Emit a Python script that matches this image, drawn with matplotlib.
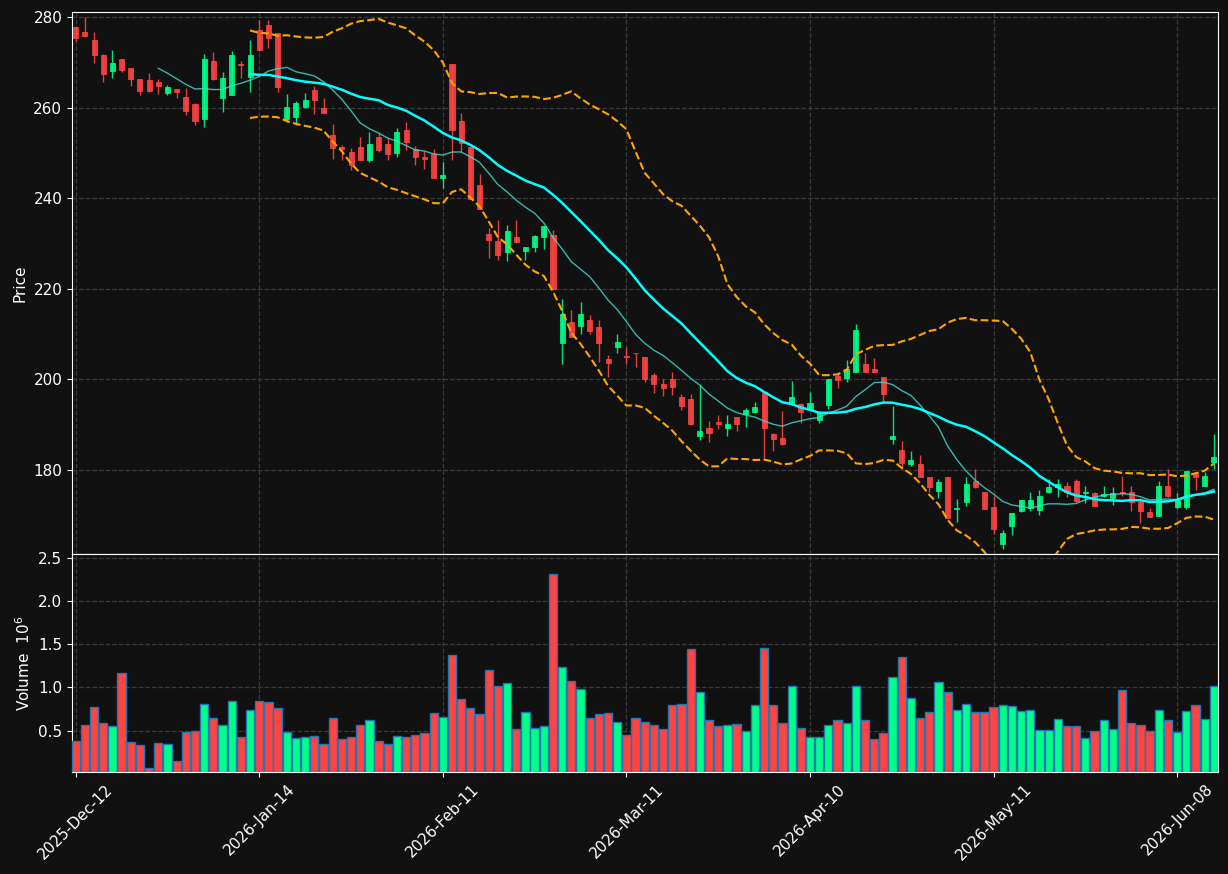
import numpy as np
import pandas as pd
import matplotlib
matplotlib.use('Agg')
import matplotlib.pyplot as plt

# OHLC, one value per trading day
opens = [277.7, 276.7, 274.9, 271.6, 268.0, 270.7, 268.7, 266.3, 266.1, 265.6,
         263.3, 264.1, 262.3, 260.8, 257.4, 270.3, 262.2, 262.8, 269.6, 266.8,
         277.1, 278.2, 276.4, 257.5, 258.0, 260.1, 263.9, 259.9, 253.9, 251.2,
         250.1, 251.3, 248.4, 253.5, 251.9, 250.0, 255.1, 250.8, 249.0, 249.8,
         244.5, 269.6, 257.0, 251.3, 242.9, 232.0, 230.5, 228.2, 231.4, 228.4,
         229.3, 231.4, 231.9, 208.1, 212.6, 211.8, 213.1, 211.5, 204.5, 207.1,
         205.2, 205.9, 204.9, 201.0, 199.0, 200.0, 196.1, 195.7, 187.5, 189.2,
         190.6, 189.3, 191.6, 192.3, 192.7, 197.1, 187.9, 187.0, 194.6, 194.6,
         193.4, 191.0, 194.4, 200.8, 200.3, 201.7, 203.4, 202.3, 200.5, 186.9,
         184.4, 181.2, 181.3, 178.4, 175.4, 178.3, 171.3, 172.9, 177.5, 175.1,
         171.8, 163.7, 167.6, 171.0, 171.6, 171.2, 175.1, 176.2, 176.5, 177.5,
         174.9, 174.9, 174.1, 173.7, 175.2, 175.0, 172.9, 170.6, 169.9, 176.4,
         171.8, 171.8, 179.3, 176.5, 181.8]
highs = [278.1, 280.0, 276.7, 271.9, 272.7, 270.7, 268.7, 266.3, 267.6, 266.2,
         265.0, 264.1, 264.3, 261.0, 271.9, 272.2, 267.9, 272.4, 270.2, 274.9,
         279.4, 279.4, 276.4, 262.9, 261.4, 263.3, 264.7, 262.1, 256.4, 251.8,
         251.0, 253.5, 254.5, 254.3, 253.3, 255.4, 256.8, 251.5, 250.4, 250.8,
         248.0, 269.6, 258.7, 251.3, 245.3, 233.3, 235.1, 234.0, 235.1, 229.3,
         231.8, 233.9, 233.0, 217.7, 215.2, 217.1, 214.2, 213.1, 205.3, 210.0,
         207.2, 205.9, 204.9, 201.3, 200.0, 201.6, 196.7, 196.7, 198.8, 190.7,
         192.0, 192.0, 191.6, 193.7, 195.0, 197.5, 188.1, 192.9, 199.6, 194.8,
         197.1, 192.9, 200.0, 201.3, 204.2, 212.3, 205.9, 204.6, 200.5, 194.0,
         186.4, 184.2, 183.3, 178.4, 177.9, 178.5, 173.5, 178.5, 180.2, 175.1,
         174.1, 166.6, 170.5, 173.3, 175.0, 175.5, 178.0, 177.9, 177.2, 177.9,
         176.5, 175.2, 176.5, 176.2, 178.7, 176.5, 173.7, 171.6, 177.5, 180.1,
         174.9, 179.8, 179.6, 179.5, 187.8]
lows = [274.8, 275.5, 269.8, 265.6, 266.6, 267.9, 264.7, 262.7, 263.5, 262.9,
        262.7, 262.2, 258.3, 256.2, 255.6, 266.0, 259.1, 262.7, 266.6, 263.5,
        272.5, 273.1, 263.5, 256.7, 256.2, 260.0, 258.5, 258.9, 248.7, 248.5,
        246.1, 248.4, 248.0, 250.2, 248.4, 249.1, 250.7, 247.2, 246.4, 244.5,
        242.3, 248.5, 250.1, 239.9, 237.6, 226.7, 226.3, 226.0, 230.1, 226.3,
        228.0, 228.7, 219.9, 203.3, 209.4, 209.9, 210.0, 203.8, 200.4, 205.7,
        203.3, 202.6, 199.4, 196.9, 196.2, 196.6, 193.3, 189.9, 186.6, 186.2,
        188.9, 187.5, 188.5, 189.4, 192.5, 182.5, 184.1, 185.4, 194.2, 190.4,
        193.3, 190.4, 193.4, 198.1, 199.3, 201.7, 201.7, 201.6, 195.2, 185.6,
        180.1, 180.8, 178.5, 175.0, 173.7, 169.3, 168.5, 171.9, 176.0, 171.3,
        165.8, 162.4, 165.5, 170.6, 171.0, 170.0, 174.9, 173.9, 173.9, 172.9,
        172.7, 172.0, 173.9, 172.2, 174.2, 170.9, 168.3, 169.5, 169.8, 173.9,
        171.4, 171.4, 175.5, 176.4, 180.2]
closes = [275.4, 275.8, 271.7, 267.3, 269.9, 268.3, 266.2, 263.7, 263.7, 264.8,
          264.5, 263.5, 259.3, 257.1, 270.7, 266.2, 266.5, 271.6, 269.4, 271.6,
          272.7, 275.4, 264.6, 260.1, 261.0, 261.7, 261.7, 258.9, 251.1, 250.9,
          247.4, 248.5, 251.9, 250.6, 249.8, 254.6, 252.4, 249.1, 248.7, 244.5,
          245.0, 255.1, 252.1, 239.9, 237.6, 230.7, 227.4, 232.7, 230.3, 229.1,
          231.6, 233.9, 219.9, 214.4, 209.4, 214.4, 210.7, 207.9, 203.5, 208.2,
          205.0, 205.8, 200.0, 199.0, 198.1, 198.2, 194.0, 190.1, 188.6, 188.2,
          190.1, 190.0, 190.2, 193.2, 193.9, 189.3, 186.9, 185.8, 196.1, 192.7,
          194.7, 192.7, 200.0, 199.8, 202.3, 210.9, 201.7, 201.7, 196.8, 187.5,
          181.4, 182.1, 178.5, 176.2, 177.2, 169.3, 171.6, 176.9, 176.2, 171.3,
          167.0, 166.0, 170.5, 173.3, 173.3, 174.2, 176.2, 176.8, 175.2, 173.1,
          175.1, 172.0, 174.7, 174.9, 174.9, 172.8, 171.0, 169.6, 176.4, 174.1,
          173.3, 179.7, 178.5, 178.7, 182.8]
# volume in millions
volumes = [0.38, 0.57, 0.77, 0.59, 0.55, 1.17, 0.37, 0.33, 0.07, 0.36,
           0.35, 0.15, 0.48, 0.49, 0.81, 0.64, 0.56, 0.84, 0.43, 0.74,
           0.84, 0.83, 0.76, 0.48, 0.41, 0.42, 0.44, 0.34, 0.65, 0.40,
           0.42, 0.56, 0.62, 0.38, 0.35, 0.44, 0.42, 0.45, 0.47, 0.70,
           0.66, 1.37, 0.86, 0.76, 0.69, 1.20, 1.02, 1.05, 0.52, 0.71,
           0.53, 0.55, 2.31, 1.23, 1.07, 0.98, 0.65, 0.69, 0.70, 0.60,
           0.45, 0.64, 0.60, 0.56, 0.52, 0.79, 0.81, 1.44, 0.94, 0.62,
           0.55, 0.57, 0.58, 0.49, 0.80, 1.45, 0.80, 0.59, 1.01, 0.53,
           0.43, 0.43, 0.56, 0.62, 0.59, 1.02, 0.62, 0.40, 0.47, 1.12,
           1.35, 0.88, 0.65, 0.71, 1.06, 0.95, 0.74, 0.81, 0.71, 0.71,
           0.77, 0.80, 0.78, 0.73, 0.74, 0.51, 0.51, 0.63, 0.55, 0.55,
           0.41, 0.50, 0.62, 0.52, 0.97, 0.59, 0.56, 0.50, 0.74, 0.62,
           0.48, 0.73, 0.80, 0.63, 1.01]
tick_pos = [0, 20, 40, 60, 80, 100, 120]
tick_labels = ['2025-Dec-12', '2026-Jan-14', '2026-Feb-11', '2026-Mar-11',
               '2026-Apr-10', '2026-May-11', '2026-Jun-08']

BG = '#111111'
UP = '#00ff88'
DOWN = '#ff4444'
GRID = '#3a3a3a'

df = pd.DataFrame({'o': opens, 'h': highs, 'l': lows, 'c': closes, 'v': volumes})
x = np.arange(len(df))
ma10 = df['c'].rolling(10).mean()
ma20 = df['c'].rolling(20).mean()
sd20 = df['c'].rolling(20).std()
colors = [UP if c >= o else DOWN for o, c in zip(df['o'], df['c'])]

fig = plt.figure(figsize=(12.28, 8.74), dpi=100, facecolor=BG)
ax = fig.add_axes([72 / 1228, 1 - 554 / 874, 1146 / 1228, 542 / 874], facecolor=BG)
axv = fig.add_axes([72 / 1228, 1 - 772 / 874, 1146 / 1228, 218 / 874], facecolor=BG, sharex=ax)

# candles
ax.vlines(x, df['l'], df['h'], colors=colors, lw=1.0, alpha=0.9, zorder=2)
body = (df['c'] - df['o']).abs()
bottom = df[['o', 'c']].min(axis=1)
ax.bar(x, body, bottom=bottom, width=0.55, color=colors, edgecolor=colors,
       linewidth=0.6, alpha=0.9, zorder=3)

# moving averages + bands
ax.plot(x, ma10, color='#40e0d0', lw=1.0, alpha=0.8, zorder=4)
ax.plot(x, ma20, color='#00ffff', lw=1.8, zorder=4)
ax.plot(x, ma20 + 2 * sd20, color='#ffa500', lw=1.5, ls='--', zorder=4)
ax.plot(x, ma20 - 2 * sd20, color='#ffa500', lw=1.5, ls='--', zorder=4)

# volume
axv.bar(x, df['v'], width=0.9, color=colors, edgecolor='#1f77b4', linewidth=1.0, zorder=3)

ax.set_xlim(-0.4, 124.45)
ax.set_ylim(161.4, 281.1)
axv.set_ylim(0.3 * df['v'].min(), 1.1 * df['v'].max())

for a in (ax, axv):
    a.grid(True, linestyle='--', color=GRID, lw=0.9, zorder=0)
    a.set_axisbelow(True)
    for s in a.spines.values():
        s.set_color('white')
    a.tick_params(colors='white', labelsize=11)

ax.set_yticks([180, 200, 220, 240, 260, 280])
ax.tick_params(axis='x', labelbottom=False)
axv.set_yticks([0.5, 1.0, 1.5, 2.0, 2.5])
axv.set_yticklabels(['0.5', '1.0', '1.5', '2.0', '2.5'])
axv.set_xticks(tick_pos)
axv.set_xticklabels(tick_labels, rotation=45)

ax.set_ylabel('Price', color='white', fontsize=11)
axv.set_ylabel('Volume  $10^{6}$', color='white', fontsize=11)

fig.savefig('out.png', dpi=100, facecolor=BG)
